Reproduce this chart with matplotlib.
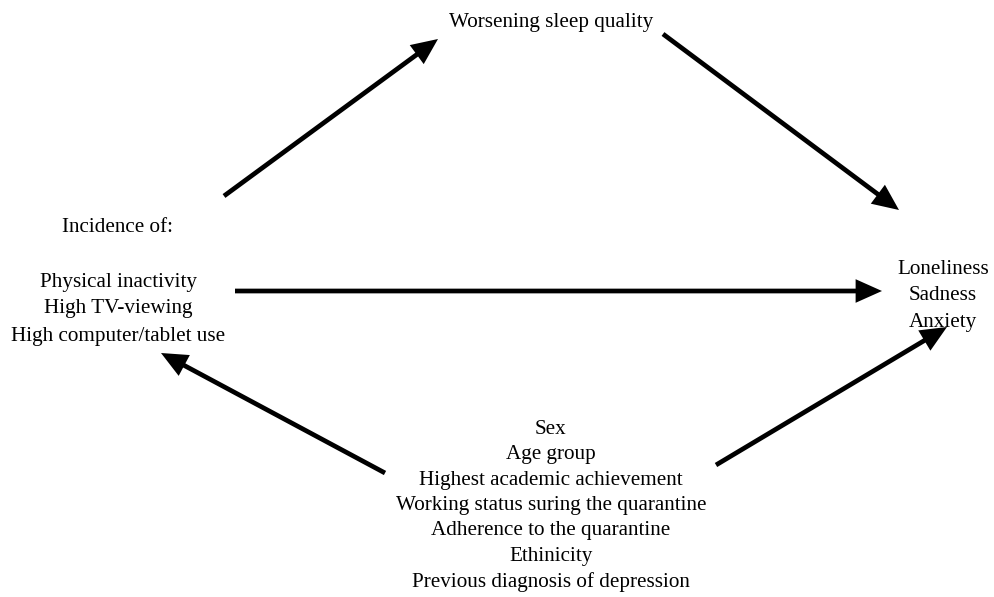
import matplotlib.pyplot as plt

plt.rcParams['font.family'] = ['Liberation Serif', 'DejaVu Serif']

# node texts
sleep_label = ["Worsening sleep quality"]
exposure_lines = ["Incidence of:", "", "Physical inactivity", "High TV-viewing",
                  "High computer/tablet use"]
outcome_lines = ["Loneliness", "Sadness", "Anxiety"]
covariate_lines = ["Sex", "Age group", "Highest academic achievement",
                   "Working status suring the quarantine", "Adherence to the quarantine",
                   "Ethinicity", "Previous diagnosis of depression"]

# arrows: (start, end) in pixel coords of the 995x597 canvas
arrows = [
    ((224, 196), (438, 39)),
    ((663, 34), (899, 210)),
    ((235, 291), (882, 291)),
    ((385, 473), (161, 353)),
    ((716, 465), (947, 327)),
]

fig = plt.figure(figsize=(9.95, 5.97), dpi=100)
ax = fig.add_axes([0, 0, 1, 1])
ax.set_xlim(0, 995)
ax.set_ylim(597, 0)
ax.axis("off")

fs = 15.2


def draw_block(lines, x, y0, step):
    for i, line in enumerate(lines):
        if line:
            ax.text(x, y0 + i * step, line, ha="center", va="center", fontsize=fs)


draw_block(sleep_label, 551, 22, 26)
draw_block(exposure_lines, 118, 228, 27)
draw_block(outcome_lines, 943, 269, 27)
draw_block(covariate_lines, 551, 429, 25.5)

for (x0, y0), (x1, y1) in arrows:
    ax.annotate("", xy=(x1, y1), xytext=(x0, y0),
                arrowprops=dict(arrowstyle="simple,head_length=0.95,head_width=0.85,tail_width=0.17",
                                color="black", lw=0, shrinkA=0, shrinkB=0,
                                mutation_scale=20))

fig.savefig("out.png", dpi=100)
